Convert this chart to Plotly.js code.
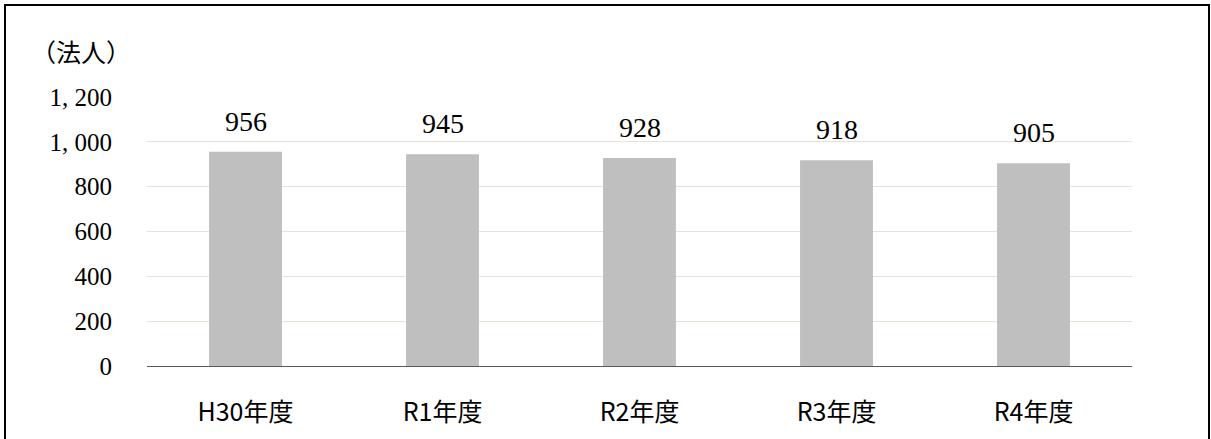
<!DOCTYPE html>
<html>
<head>
<meta charset="utf-8">
<script src="https://cdn.plot.ly/plotly-3.0.1.min.js"></script>
<style>html,body{margin:0;padding:0;background:#fff;}#chart{width:1211px;height:439px;}</style>
</head>
<body>
<div id="chart"></div>
<script>
const categories = ["H30年度", "R1年度", "R2年度", "R3年度", "R4年度"];
const values = [956, 945, 928, 918, 905];
const tickVals = [0, 200, 400, 600, 800, 1000, 1200];
const tickLabels = ["0", "200", "400", "600", "800", "1, 000", "1, 200"];
const unitLabel = "（法人）";

const W = 1211, H = 439;
const m = {l: 147, r: 79, t: 97, b: 73};
const pw = W - m.l - m.r, ph = H - m.t - m.b;
const px = x => (x - m.l) / pw;
const py = y => (H - m.b - y) / ph;

const serif = "Liberation Serif, DejaVu Serif, serif";
const sans = "Noto Sans CJK JP, Noto Sans, sans-serif";

const trace = {
  type: "bar",
  x: categories,
  y: values,
  marker: {color: "#bfbfbf"},
  hoverinfo: "none"
};

const annotations = categories.map((c, i) => ({
  x: c, y: values[i], xref: "x", yref: "y",
  text: String(values[i]), showarrow: false,
  yanchor: "bottom", yshift: 13,
  font: {family: serif, size: 28, color: "#000"}
}));
annotations.push({
  xref: "paper", yref: "paper", x: px(29), y: py(51),
  xanchor: "left", yanchor: "middle", text: unitLabel, showarrow: false,
  font: {family: sans, size: 25, color: "#000"}
});

const layout = {
  width: W, height: H,
  margin: m,
  paper_bgcolor: "#fff", plot_bgcolor: "#fff",
  showlegend: false,
  bargap: 0.63,
  xaxis: {
    type: "category",
    showgrid: false, zeroline: false,
    showline: true, linecolor: "#595959", linewidth: 1,
    ticks: "", ticklabelstandoff: 24,
    tickfont: {family: sans, size: 25, color: "#000"}
  },
  yaxis: {
    range: [0, 1200],
    tickmode: "array", tickvals: tickVals, ticktext: tickLabels,
    showgrid: true, gridcolor: "#e6e2d6", gridwidth: 1,
    zeroline: false, showline: false, ticks: "",
    ticklabelstandoff: 34,
    tickfont: {family: serif, size: 25, color: "#000"}
  },
  annotations: annotations,
  shapes: [{
    type: "rect", xref: "paper", yref: "paper",
    x0: px(5), x1: px(1209), y0: py(450), y1: py(5),
    line: {color: "#000", width: 2}, fillcolor: "rgba(0,0,0,0)"
  }]
};

Plotly.newPlot("chart", [trace], layout, {displayModeBar: false, staticPlot: true});
</script>
</body>
</html>
